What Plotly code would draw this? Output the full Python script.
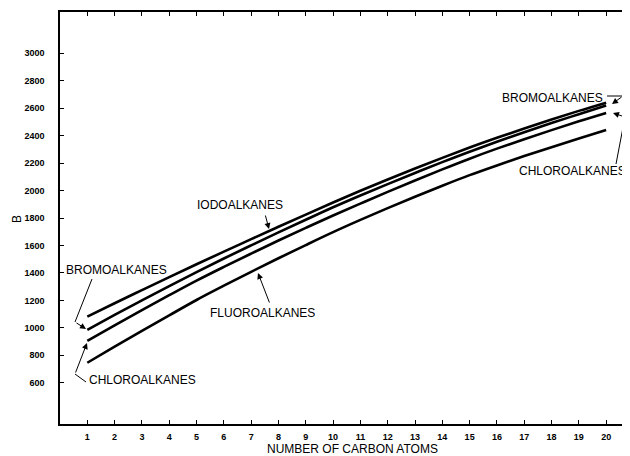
import plotly.graph_objects as go

carbon_atoms = list(range(1, 21))
iodoalkanes = [1082, 1179, 1275, 1370, 1463, 1555, 1646, 1736, 1825, 1913,
               1998, 2080, 2160, 2238, 2313, 2384, 2452, 2517, 2580, 2640]
bromoalkanes = [985, 1094, 1200, 1304, 1406, 1505, 1601, 1695, 1787, 1878,
                1964, 2047, 2128, 2207, 2283, 2355, 2424, 2491, 2556, 2620]
chloroalkanes = [906, 1019, 1130, 1238, 1344, 1444, 1541, 1636, 1728, 1818,
                 1905, 1990, 2073, 2154, 2232, 2305, 2374, 2440, 2504, 2565]
fluoroalkanes = [746, 863, 978, 1091, 1203, 1307, 1408, 1507, 1603, 1697,
                 1786, 1872, 1955, 2035, 2112, 2183, 2251, 2316, 2379, 2440]
y_ticks = list(range(600, 3001, 200))
x_ticks = list(range(1, 21))

# page body has an 8px margin; the figure is sized so its right/bottom meet the window edge
OFF = 8
W, H = 630 - OFF, 456 - OFF
L, R, T, B = 60 - OFF, 2, 12 - OFF, 32
XR = [0, 20.8]
YR = [300, 3300]


def d(px, py):
    """reference-window pixel -> data coords"""
    px, py = px - OFF, py - OFF
    x = XR[0] + (px - L) / (W - L - R) * (XR[1] - XR[0])
    y = YR[0] + (H - B - py) / (H - T - B) * (YR[1] - YR[0])
    return x, y


def p(px, py):
    """reference-window pixel -> paper coords"""
    px, py = px - OFF, py - OFF
    return (px - L) / (W - L - R), (H - B - py) / (H - T - B)


fig = go.Figure()
for ys in [iodoalkanes, bromoalkanes, chloroalkanes, fluoroalkanes]:
    fig.add_trace(go.Scatter(x=carbon_atoms, y=ys, mode="lines",
                             line=dict(color="black", width=2.6, shape="spline"),
                             showlegend=False, hoverinfo="skip"))

FONT = dict(family="Liberation Sans, Arial, sans-serif", size=12, color="black")

texts = [
    ("BROMOALKANES", 116, 270),
    ("CHLOROALKANES", 142, 380),
    ("IODOALKANES", 240, 205),
    ("FLUOROALKANES", 262, 313),
    ("BROMOALKANES", 552, 98),
    ("CHLOROALKANES", 572, 171),
]
for t, px, py in texts:
    x, y = d(px, py)
    fig.add_annotation(x=x, y=y, text=t, showarrow=False, font=FONT,
                       xanchor="center", yanchor="middle")

paths = [
    [(92, 279), (75, 322)],
    [(86, 382), (75, 374)],
    [(607, 96), (623, 96)],
    [(616, 164), (625, 117)],
]
for seg in paths:
    (x0, y0), (x1, y1) = d(*seg[0]), d(*seg[1])
    fig.add_shape(type="line", x0=x0, y0=y0, x1=x1, y1=y1,
                  line=dict(color="black", width=1))

arrows = [
    ((75, 322), (86, 329)),
    ((75, 374), (87, 343)),
    ((265, 214), (269, 229)),
    ((270, 304), (258, 273)),
    ((623, 96), (612, 104)),
    ((625, 117), (613, 113)),
]
for (tx, ty), (hx, hy) in arrows:
    x, y = d(hx, hy)
    fig.add_annotation(x=x, y=y, text="", showarrow=True, ax=tx - hx, ay=ty - hy,
                       arrowhead=2, arrowsize=1.2, arrowwidth=1, arrowcolor="black")

tx, ty = p(352, 449)
fig.add_annotation(xref="paper", yref="paper", x=tx, y=ty, xanchor="center", yanchor="middle",
                   text="NUMBER OF CARBON ATOMS", showarrow=False, font=FONT)
bx, by = p(17, 219)
fig.add_annotation(xref="paper", yref="paper", x=bx, y=by, xanchor="center", yanchor="middle",
                   text="B", textangle=-90, showarrow=False, font=FONT)

TICKFONT = dict(family="Liberation Sans, Arial, sans-serif", size=9, color="black", weight="bold")
fig.update_xaxes(range=XR, tickvals=x_ticks, ticktext=[str(v) for v in x_ticks],
                 ticks="inside", ticklen=4, tickwidth=1, tickcolor="black",
                 showline=True, linecolor="black", linewidth=1.5, mirror="allticks",
                 showgrid=False, zeroline=False, tickfont=TICKFONT, ticklabelstandoff=3)
fig.update_yaxes(range=YR, tickvals=y_ticks, ticktext=[str(v) for v in y_ticks],
                 ticks="inside", ticklen=4, tickwidth=1, tickcolor="black",
                 showline=True, linecolor="black", linewidth=1.5,
                 showgrid=False, zeroline=False, tickfont=TICKFONT, ticklabelstandoff=12)
fig.update_layout(width=W, height=H, margin=dict(l=L, r=R, t=T, b=B, autoexpand=False),
                  plot_bgcolor="white", paper_bgcolor="white")
fig.write_html("out.html")
